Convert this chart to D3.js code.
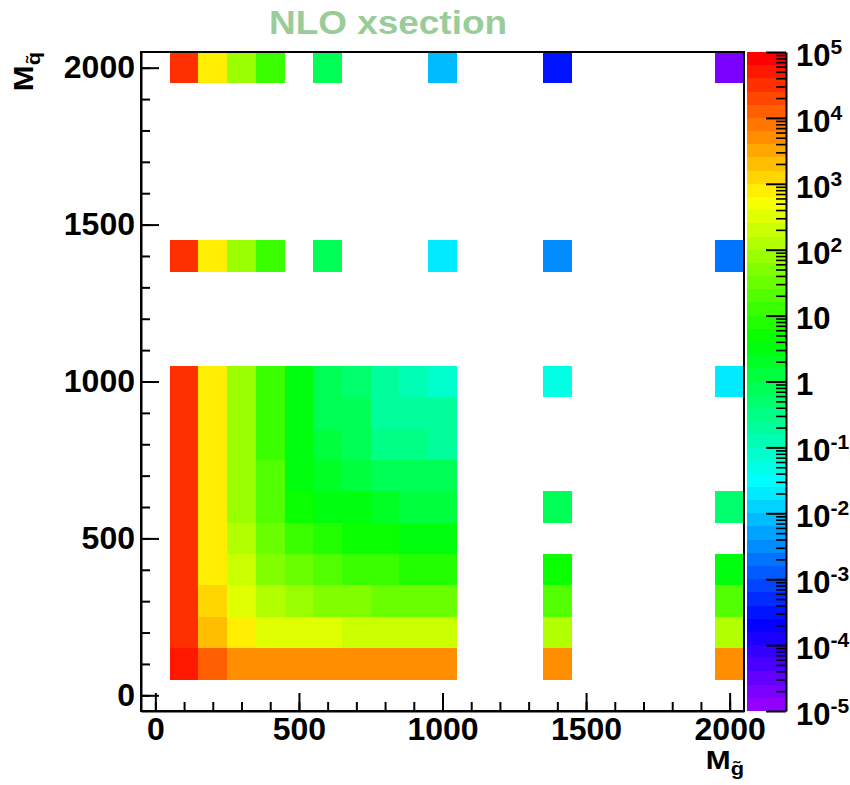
<!DOCTYPE html>
<html><head><meta charset="utf-8">
<script src="https://cdn.jsdelivr.net/npm/d3@7"></script>
<style>
body{margin:0;background:#fff}
svg{display:block}
text{font-family:"Liberation Sans",Arial,Helvetica,sans-serif;font-weight:bold}
</style>
</head><body>
<svg id="c" width="850" height="785"></svg>
<script>
// ---------------- data ----------------
const gluinoMasses = [100,200,300,400,500,600,700,800,900,1000,1400,2000];
const squarkMasses = [100,200,300,400,500,600,700,800,900,1000,1400,2000];
// NLO cross section; rows = squark mass, columns = gluino mass; null = no point
const xsecSq100  = [50000,13000,5000,5000,5000,5000,5000,5000,5000,5000,5000,5000];
const xsecSq200  = [32000,2000,800,320,320,320,200,200,200,200,130,130];
const xsecSq300  = [32000,1300,320,130,80,50,50,32,32,32,20,20];
const xsecSq400  = [32000,800,200,50,32,20,13,13,8,8,5,3.2];
const xsecSq500  = [32000,800,130,32,13,8,5,5,3.2,3.2,null,null];
const xsecSq600  = [32000,800,80,20,5,3.2,3.2,2,1.3,1.3,0.8,0.5];
const xsecSq700  = [32000,800,80,20,3.2,2,1.3,0.8,0.8,0.8,null,null];
const xsecSq800  = [32000,800,80,13,3.2,1.3,0.8,0.32,0.32,0.2,null,null];
const xsecSq900  = [32000,800,80,13,3.2,0.8,0.8,0.2,0.2,0.2,null,null];
const xsecSq1000 = [32000,800,80,13,3.2,0.8,0.5,0.2,0.13,0.079,0.05,0.02];
const xsecSq1400 = [32000,800,80,13,null,0.8,null,null,null,0.02,0.0032,0.002];
const xsecSq2000 = [32000,800,80,13,null,0.8,null,null,null,0.0079,0.00032,0.00002];
const xsecRows = [xsecSq100,xsecSq200,xsecSq300,xsecSq400,xsecSq500,xsecSq600,
                  xsecSq700,xsecSq800,xsecSq900,xsecSq1000,xsecSq1400,xsecSq2000];
const axisMajor = [0,500,1000,1500,2000];
const axisMinor = d3.range(0,2001,100);
const zDecades = d3.range(-5,6);
const titleText = "NLO xsection";

// ---------------- layout ----------------
const svg = d3.select("#c");
const F = {left:141, right:744, top:52, bottom:711};
const x = d3.scaleLinear().domain([-50,2050]).range([F.left,F.right]);
const y = d3.scaleLinear().domain([-50,2050]).range([F.bottom,F.top]);
const binW = 100;
const nColors = 50;
const palette = d3.range(nColors).map(i => d3.hsl(280-(i+1)*280/nColors,1,0.5).formatHex());
const zLog = d3.scaleQuantize().domain([-5,5]).range(palette);
const CB = {left:747, right:786};
const z = d3.scaleLog().domain([1e-5,1e5]).range([F.bottom,F.top]);

// cells
const cells = [];
squarkMasses.forEach((mq,r)=>gluinoMasses.forEach((mg,c)=>{
  const v = xsecRows[r][c];
  if(v!=null) cells.push({mg,mq,v});
}));
svg.append("g").selectAll("rect").data(cells).join("rect")
  .attr("x",d=>x(d.mg-binW/2))
  .attr("y",d=>y(d.mq+binW/2))
  .attr("width",d=>x(d.mg+binW/2)-x(d.mg-binW/2))
  .attr("height",d=>y(d.mq-binW/2)-y(d.mq+binW/2))
  .attr("fill",d=>zLog(Math.log10(d.v)))
  .attr("shape-rendering","crispEdges");

// frame
svg.append("rect").attr("x",F.left).attr("y",F.top)
  .attr("width",F.right-F.left).attr("height",F.bottom-F.top)
  .attr("fill","none").attr("stroke","#000").attr("stroke-width",2);

function styleAxis(g,fs){
  g.selectAll("path").attr("stroke","#000").attr("stroke-width",2);
  g.selectAll("line").attr("stroke","#000").attr("stroke-width",2);
  g.selectAll("text").attr("font-size",fs).attr("fill","#000")
   .attr("font-family",'"Liberation Sans",Arial,sans-serif').attr("font-weight","bold");
}
// x axis
const gxm = svg.append("g").attr("transform",`translate(0,${F.bottom})`)
  .call(d3.axisBottom(x).tickValues(axisMinor).tickSize(-9).tickSizeOuter(0).tickFormat(""));
gxm.select(".domain").remove(); styleAxis(gxm,32);
const gx = svg.append("g").attr("transform",`translate(0,${F.bottom})`)
  .call(d3.axisBottom(x).tickValues(axisMajor).tickSize(-18).tickSizeOuter(0).tickPadding(6).tickFormat(d3.format("d")));
styleAxis(gx,32);
// y axis
const gym = svg.append("g").attr("transform",`translate(${F.left},0)`)
  .call(d3.axisLeft(y).tickValues(axisMinor).tickSize(-9).tickSizeOuter(0).tickFormat(""));
gym.select(".domain").remove(); styleAxis(gym,32);
const gy = svg.append("g").attr("transform",`translate(${F.left},0)`)
  .call(d3.axisLeft(y).tickValues(axisMajor).tickSize(-18).tickSizeOuter(0).tickPadding(6).tickFormat(d3.format("d")));
styleAxis(gy,32);

// colour bar
const bands = d3.range(nColors);
svg.append("g").selectAll("rect").data(bands).join("rect")
  .attr("x",CB.left).attr("width",CB.right-CB.left)
  .attr("y",i=>z(Math.pow(10,-5+10*(i+1)/nColors)))
  .attr("height",i=>z(Math.pow(10,-5+10*i/nColors))-z(Math.pow(10,-5+10*(i+1)/nColors)))
  .attr("fill",i=>palette[i]).attr("shape-rendering","crispEdges");
const zMinor = [];
zDecades.slice(0,-1).forEach(d=>{ for(let k=2;k<=9;k++) zMinor.push(k*Math.pow(10,d)); });
const gzm = svg.append("g").attr("transform",`translate(${CB.right},0)`)
  .call(d3.axisRight(z).tickValues(zMinor).tickSize(-10).tickSizeOuter(0).tickFormat(""));
gzm.select(".domain").remove(); styleAxis(gzm,31);
gzm.selectAll("line").attr("stroke-width",1.6);
const gz = svg.append("g").attr("transform",`translate(${CB.right},0)`)
  .call(d3.axisRight(z).tickValues(zDecades.map(d=>Math.pow(10,d))).tickSize(-20).tickSizeOuter(0).tickPadding(10).tickFormat(""));
styleAxis(gz,31);
gz.selectAll(".tick text").each(function(d){
  const t = d3.select(this).attr("dy","0.43em");
  const e = Math.round(Math.log10(d));
  if(e===0){ t.append("tspan").text("1"); }
  else if(e===1){ t.append("tspan").text("10"); }
  else {
    t.append("tspan").text("10");
    t.append("tspan").attr("font-size",21).attr("dy",-12).text(String(e));
  }
});

// titles
svg.append("text").attr("x",269).attr("y",34)
  .attr("font-size",33).attr("fill","#99cc99")
  .attr("textLength",238).attr("lengthAdjust","spacingAndGlyphs")
  .text(titleText);

const xt = svg.append("text").attr("transform","translate(744,769) scale(1.15,1)")
  .attr("text-anchor","end").attr("fill","#000");
xt.append("tspan").attr("font-size",26).text("M");
xt.append("tspan").attr("font-size",19).attr("dy",6).text("g\u0303");

const yt = svg.append("text").attr("transform","translate(33,52) rotate(-90) scale(1.15,1)")
  .attr("text-anchor","end").attr("fill","#000");
yt.append("tspan").attr("font-size",27).text("M");
yt.append("tspan").attr("font-size",19).attr("dy",7).text("q\u0303");
</script>
</body></html>
